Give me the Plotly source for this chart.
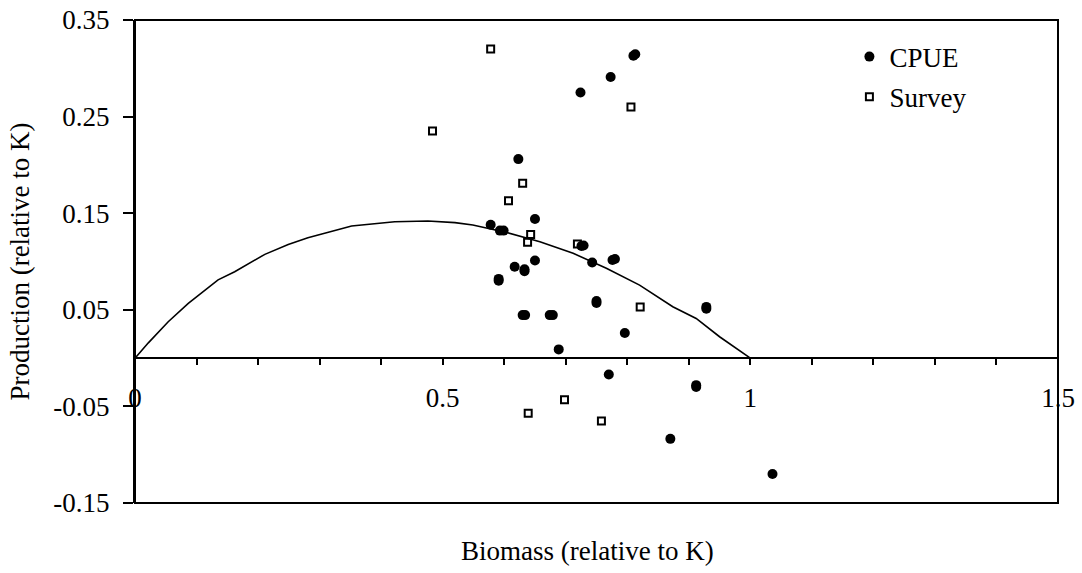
import plotly.graph_objects as go

# CPUE observations (biomass, production), relative to K
cpue_x = [0.810, 0.813, 0.773, 0.724, 0.623, 0.650, 0.578, 0.593, 0.599,
          0.7255, 0.729, 0.776, 0.780, 0.743, 0.650, 0.617, 0.633, 0.633,
          0.591, 0.591, 0.750, 0.750, 0.9285, 0.9285, 0.630, 0.634, 0.674,
          0.679, 0.796, 0.6886, 0.770, 0.912, 0.912, 0.870, 1.036]
cpue_y = [0.313, 0.3145, 0.291, 0.275, 0.206, 0.144, 0.138, 0.132, 0.132,
          0.116, 0.1165, 0.1015, 0.1025, 0.099, 0.101, 0.0946, 0.092, 0.090,
          0.082, 0.080, 0.059, 0.057, 0.053, 0.051, 0.0445, 0.0445, 0.0445,
          0.0445, 0.026, 0.009, -0.017, -0.028, -0.030, -0.0836, -0.120]

# Survey observations
survey_x = [0.578, 0.806, 0.4835, 0.630, 0.607, 0.643, 0.638, 0.719,
            0.821, 0.698, 0.639, 0.758]
survey_y = [0.320, 0.260, 0.235, 0.181, 0.163, 0.128, 0.120, 0.118,
            0.053, -0.043, -0.057, -0.065]

# Production curve
curve_x = [0, 0.0217, 0.054, 0.0866, 0.135, 0.162, 0.211, 0.249, 0.281,
           0.352, 0.422, 0.476, 0.52, 0.549, 0.604, 0.658, 0.712, 0.766,
           0.820, 0.874, 0.912, 0.950, 1.0]
curve_y = [0, 0.0158, 0.0376, 0.0567, 0.081, 0.0894, 0.1074, 0.1177, 0.1246,
           0.1367, 0.1412, 0.1419, 0.1402, 0.1378, 0.130, 0.1205, 0.1085, 0.093,
           0.0756, 0.0532, 0.041, 0.0221, 0]

y_tickvals = [-0.15, -0.05, 0.05, 0.15, 0.25, 0.35]
y_ticktext = ["-0.15", "-0.05", "0.05", "0.15", "0.25", "0.35"]
x_tickvals = [0, 0.5, 1, 1.5]
x_ticktext = ["0", "0.5", "1", "1.5"]

FONT = "Liberation Serif, Times New Roman, serif"
FS = 27

fig = go.Figure()
fig.add_trace(go.Scatter(x=curve_x, y=curve_y, mode="lines",
                         line=dict(color="black", width=1.6),
                         showlegend=False, hoverinfo="skip"))
fig.add_trace(go.Scatter(x=cpue_x, y=cpue_y, mode="markers", name="CPUE",
                         legendgroup="a",
                         marker=dict(symbol="circle", size=10, color="black",
                                     line=dict(width=0))))
fig.add_trace(go.Scatter(x=survey_x, y=survey_y, mode="markers", name="Survey",
                         legendgroup="b",
                         marker=dict(symbol="square-open", size=7, color="black",
                                     line=dict(width=2, color="black"))))

fig.update_layout(
    width=1082, height=573,
    margin=dict(l=135, r=24, t=20, b=70, autoexpand=False),
    paper_bgcolor="white", plot_bgcolor="white",
    font=dict(family=FONT, size=FS, color="black"),
    legend=dict(x=0.774, xanchor="left", y=0.974, yanchor="top",
                font=dict(family=FONT, size=FS, color="black"),
                bgcolor="rgba(0,0,0,0)", tracegroupgap=2),
    xaxis=dict(range=[0, 1.5], anchor="free", position=0.3, automargin=False,
               showline=True, linecolor="black", linewidth=2,
               ticks="outside", ticklen=6, tickwidth=2, tickcolor="black",
               tickmode="array", tickvals=x_tickvals, ticktext=x_ticktext,
               minor=dict(tickmode="linear", tick0=0, dtick=0.1, ticks="outside",
                          ticklen=6, tickwidth=2, tickcolor="black"),
               ticklabelstandoff=9,
               showgrid=False, zeroline=False),
    yaxis=dict(range=[-0.15, 0.35], automargin=False,
               showline=True, linecolor="black", linewidth=2,
               ticks="outside", ticklen=10, tickwidth=2, tickcolor="black",
               tickmode="array", tickvals=y_tickvals, ticktext=y_ticktext,
               ticklabelstandoff=8,
               showgrid=False, zeroline=False,
               title=dict(text="Production (relative to K)", standoff=16,
                          font=dict(family=FONT, size=FS, color="black"))),
    shapes=[dict(type="rect", xref="paper", yref="paper", x0=0, x1=1, y0=0, y1=1,
                 line=dict(color="black", width=2), layer="above")],
    annotations=[dict(text="Biomass (relative to K)", xref="paper", yref="paper",
                      x=0.49, y=-0.1, xanchor="center", yanchor="middle",
                      showarrow=False,
                      font=dict(family=FONT, size=FS, color="black"))],
)

fig.write_html("out.html")
